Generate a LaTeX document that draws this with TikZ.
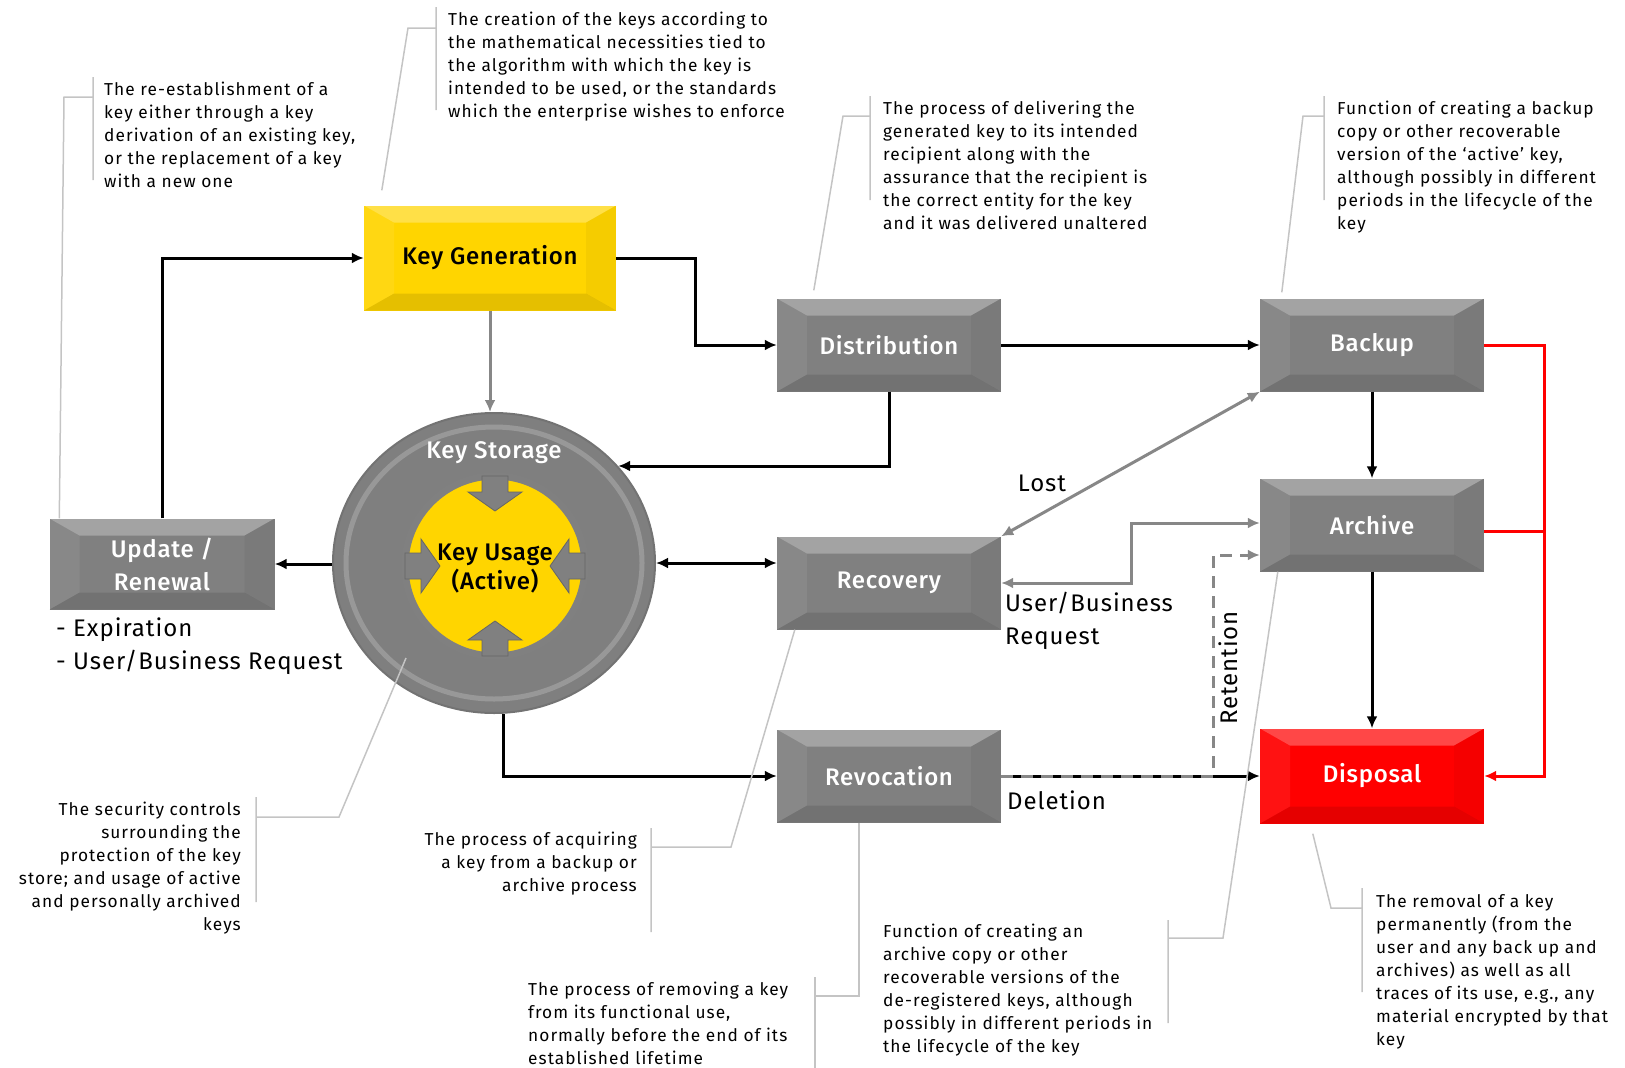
\documentclass[tikz,border=0pt]{standalone}
\usepackage{fontspec}
\setmainfont{Fira Sans}
\newfontfamily\notefont[LetterSpace=6]{Fira Sans}
\newfontfamily\lblfont[LetterSpace=4]{Fira Sans}
\newfontfamily\stagefont[LetterSpace=3]{Fira Sans Medium}
\usetikzlibrary{shapes.geometric}
\usetikzlibrary{arrows.meta}
\usetikzlibrary{positioning}

\definecolor{stagegray}{HTML}{808080}
\definecolor{keyyellow}{HTML}{FFD500}
\definecolor{keyred}{HTML}{FF0000}
\definecolor{leadgray}{HTML}{C4C4C4}
\definecolor{linkgray}{HTML}{878787}
\definecolor{ringgray}{HTML}{7F7F7F}

\tikzset{
  bevel/.style={path picture={
    \fill[white,opacity=.28] (path picture bounding box.north west) -- (path picture bounding box.north east)
      -- ([shift={(-30pt,-17pt)}]path picture bounding box.north east) -- ([shift={(30pt,-17pt)}]path picture bounding box.north west) -- cycle;
    \fill[black,opacity=.10] (path picture bounding box.south west) -- (path picture bounding box.south east)
      -- ([shift={(-30pt,17pt)}]path picture bounding box.south east) -- ([shift={(30pt,17pt)}]path picture bounding box.south west) -- cycle;
    \fill[white,opacity=.07] (path picture bounding box.north west) -- ([shift={(30pt,-17pt)}]path picture bounding box.north west)
      -- ([shift={(30pt,17pt)}]path picture bounding box.south west) -- (path picture bounding box.south west) -- cycle;
    \fill[black,opacity=.04] (path picture bounding box.north east) -- ([shift={(-30pt,-17pt)}]path picture bounding box.north east)
      -- ([shift={(-30pt,17pt)}]path picture bounding box.south east) -- (path picture bounding box.south east) -- cycle;
  }},
  stage/.style={rectangle, fill=stagegray, text=white, bevel, minimum width=224pt, minimum height=93pt,
    align=center, font=\fontsize{24}{33}\selectfont\stagefont},
  flow/.style={line width=3pt, -{Latex[length=12pt,width=11pt]}},
  link/.style={linkgray, line width=3pt, -{Latex[length=12pt,width=11pt]}},
  redflow/.style={keyred, line width=3pt, -{Latex[length=12pt,width=11pt]}},
  lead/.style={leadgray, line width=1.5pt},
  note/.style={inner sep=0pt, anchor=north west, align=left, font=\fontsize{17.3}{23}\selectfont\notefont},
  lbl/.style={inner sep=0pt, font=\fontsize{24}{33}\selectfont\lblfont}
}

\begin{document}
\begin{tikzpicture}[x=1pt,y=-1pt]
\useasboundingbox (0,0) rectangle (1625,1068);

% lifecycle stages
\path (490,258)  node[stage, fill=keyyellow, text=black, minimum width=252pt, minimum height=105pt] (gen) {Key Generation};
\path (889,345)  node[stage] (dist) {Distribution};
\path (1372,345) node[stage] (backup) {Backup};
\path (1372,525) node[stage] (archive) {Archive};
\path (1372,776) node[stage, fill=keyred, minimum height=95pt] (disp) {Disposal};
\path (889,583)  node[stage] (recov) {Recovery};
\path (889,776)  node[stage] (revoc) {Revocation};
\path (162,564)  node[stage, minimum width=225pt, minimum height=91pt] (upd) {Update /\\Renewal};

% key storage ring
\path (494,563) node[ellipse, minimum width=322pt, minimum height=300pt, fill=ringgray, draw=black!55, line width=2pt] (store) {};
\draw[white, opacity=.2, line width=5pt] (store.center) ellipse (148 and 136);
\path (494,453) node[lbl, text=white, font=\fontsize{24}{29}\selectfont\stagefont] (storelbl) {Key Storage};
\path (495,566) node[circle, minimum size=180pt, fill=keyyellow, draw=black!50, line width=7pt] (usage) {};
\foreach \a in {0,90,180,270}
  \fill[stagegray, draw=black!60, line width=.8pt, shift={(usage.center)}, rotate=\a]
    (-13,-90) -- (13,-90) -- (13,-74) -- (27,-74) -- (0,-55) -- (-27,-74) -- (-13,-74) -- cycle;
\path (495,569) node[lbl, align=center, font=\fontsize{24}{29}\selectfont\stagefont] (usagelbl) {Key Usage\\(Active)};

% connectors
\draw[flow] (upd.north) |- (gen.west);
\draw[flow] (gen.east) -- ++(79,0) |- (dist.west);
\draw[link] (gen.south) -- (gen.south |- store.north);
\draw[flow] (dist.south) |- (store.38);
\draw[flow] (dist.east) -- (backup.west);
\draw[flow] (backup.south) -- (archive.north);
\draw[flow] (archive.south) -- (disp.north);
\draw[redflow] (backup.east) -- ++(60,0) |- (disp.east);
\draw[keyred, line width=3pt] ([yshift=-6pt]archive.east) -- ++(60,0);
\draw[flow] (upd.east -| store.west) -- (upd.east);
\draw[flow, {Latex[length=12pt,width=11pt]}-{Latex[length=12pt,width=11pt]}] (store.east) -- (store.east -| recov.west);
\draw[flow] ([xshift=9pt]store.south) |- (revoc.west);
\draw[flow] (revoc.east) -- (disp.west);
\draw[link, dash pattern=on 12pt off 8pt] (revoc.east) -- ++(212,0) |- ([yshift=-30pt]archive.west);
\draw[link, {Latex[length=12pt,width=11pt]}-{Latex[length=12pt,width=11pt]}] (recov.north east) -- (backup.south west);
\draw[link, {Latex[length=12pt,width=11pt]}-{Latex[length=12pt,width=11pt]}] (recov.east) -- ++(130,0) |- ([yshift=2pt]archive.west);

% connector labels
\path (1042,483) node[lbl] (lost) {Lost};
\path (1005,592) node[lbl, anchor=north west, align=left] (ubreq) {User/Business\\Request};
\path (1228,668) node[lbl, rotate=90] (ret) {Retention};
\path (1007,800) node[lbl, anchor=west] (del) {Deletion};
\path (56,646)   node[lbl, anchor=west, align=left] (updlbl) {- Expiration\\- User/Business Request};

% callouts
\path (104,82) node[note] (updnote) {The re-establishment of a\\key either through a key\\derivation of an existing key,\\or the replacement of a key\\with a new one};
\draw[lead] (93,77) -- (93,180) (93,97) -- (64,97) -- ([xshift=10pt]upd.north west);

\path (448,12) node[note] (gennote) {The creation of the keys according to\\the mathematical necessities tied to\\the algorithm with which the key is\\intended to be used, or the standards\\which the enterprise wishes to enforce};
\draw[lead] (436,7) -- (436,110) (436,28) -- (408,28) -- ([shift={(18pt,15pt)}]gen.north west);

\path (883,101) node[note] (distnote) {The process of delivering the\\generated key to its intended\\recipient along with the\\assurance that the recipient is\\the correct entity for the key\\and it was delivered unaltered};
\draw[lead] (870,96) -- (870,200) (870,116) -- (843,116) -- ([shift={(37pt,8pt)}]dist.north west);

\path (1337,101) node[note] (backnote) {Function of creating a backup\\copy or other recoverable\\version of the ‘active’ key,\\although possibly in different\\periods in the lifecycle of the\\key};
\draw[lead] (1324,96) -- (1324,200) (1324,116) -- (1303,116) -- ([shift={(22pt,6pt)}]backup.north west);

\path (241,802) node[note, anchor=north east, align=right] (storenote) {The security controls\\surrounding the\\protection of the key\\store; and usage of active\\and personally archived\\keys};
\draw[lead] (256,797) -- (256,902) (256,817) -- (339,817) -- ([shift={(-88pt,-95pt)}]store.center);

\path (637,832) node[note, anchor=north east, align=right] (recnote) {The process of acquiring\\a key from a backup or\\archive process};
\draw[lead] (651,828) -- (651,932) (651,847) -- (731,847) -- ([xshift=18pt]recov.south west);

\path (528,982) node[note] (revnote) {The process of removing a key\\from its functional use,\\normally before the end of its\\established lifetime};
\draw[lead] (815,977) -- (815,1068) (815,996) -- (859,996) -- ([xshift=-30pt]revoc.south);

\path (883,924) node[note] (arcnote) {Function of creating an\\archive copy or other\\recoverable versions of the\\de-registered keys, although\\possibly in different periods in\\the lifecycle of the key};
\draw[lead] (1168,920) -- (1168,1023) (1168,938) -- (1223,938) -- ([xshift=18pt]archive.south west);

\path (1376,894) node[note] (dispnote) {The removal of a key\\permanently (from the\\user and any back up and\\archives) as well as all\\traces of its use, e.g., any\\material encrypted by that\\key};
\draw[lead] (1362,888) -- (1362,992) (1362,908) -- (1331,908) -- ([shift={(53pt,-10pt)}]disp.south west);
\end{tikzpicture}
\end{document}
